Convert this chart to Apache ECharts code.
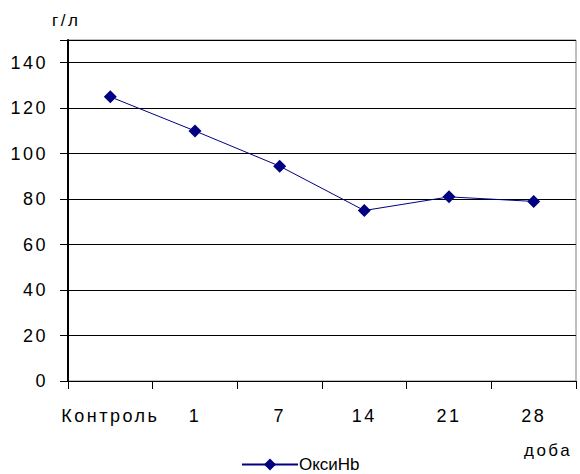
<!DOCTYPE html>
<html>
<head>
<meta charset="utf-8">
<script src="https://cdn.jsdelivr.net/npm/echarts@6/dist/echarts.min.js"></script>
<style>
html,body{margin:0;padding:0;background:#fff;}
#chart{width:580px;height:474px;}
#chart text{letter-spacing:2.5px;}
</style>
</head>
<body>
<div id="chart"></div>
<script>
var categories = ['Контроль', '1', '7', '14', '21', '28'];
var oxyHb = [125, 110, 94.5, 75, 81, 79];
var seriesName = 'ОксиHb';
var yUnit = 'г/л';
var xUnit = 'доба';

var chart = echarts.init(document.getElementById('chart'), null, {renderer: 'svg'});
var font = '"Liberation Sans", Arial, sans-serif';
chart.setOption({
  animation: false,
  backgroundColor: '#fff',
  grid: {left: 68, right: 4, top: 40, bottom: 93, show: true, borderColor: '#808080', borderWidth: 1},
  xAxis: {
    type: 'category',
    data: categories,
    boundaryGap: true,
    axisLine: {lineStyle: {color: '#000', width: 1}},
    axisTick: {show: true, length: 8, inside: false, interval: 0, alignWithLabel: false, lineStyle: {color: '#000'}},
    axisLabel: {color: '#000', fontSize: 18, fontFamily: font, margin: 26, interval: 0}
  },
  yAxis: {
    type: 'value',
    min: 0, max: 150, interval: 20,
    axisLine: {show: true, lineStyle: {color: '#000', width: 2}},
    axisTick: {show: true, length: 8, lineStyle: {color: '#000'}},
    axisLabel: {color: '#000', fontSize: 18, fontFamily: font, margin: 20,
      formatter: function (v) { return v > 140 ? '' : String(v); }},
    splitLine: {show: true, lineStyle: {color: '#000', width: 1}}
  },
  legend: {
    data: [seriesName],
    left: 236, top: 451,
    itemWidth: 56, itemHeight: 15, itemGap: 4,
    textStyle: {color: '#000', fontSize: 17, fontFamily: font, padding: [0,0,0,-4]}
  },
  graphic: [
    {type: 'text', left: 52, top: 12, style: {text: yUnit, fontSize: 17, fontFamily: font, fill: '#000'}},
    {type: 'text', left: 524, top: 442, style: {text: xUnit, fontSize: 17, fontFamily: font, fill: '#000'}}
  ],
  series: [{
    name: seriesName,
    type: 'line',
    data: oxyHb,
    symbol: 'diamond',
    symbolSize: 13,
    lineStyle: {color: '#000080', width: 1},
    itemStyle: {color: '#000080'}
  }]
});
document.querySelectorAll('#chart text').forEach(function (t) {
  if (t.textContent === seriesName) t.style.letterSpacing = '0px';
});
</script>
</body>
</html>
